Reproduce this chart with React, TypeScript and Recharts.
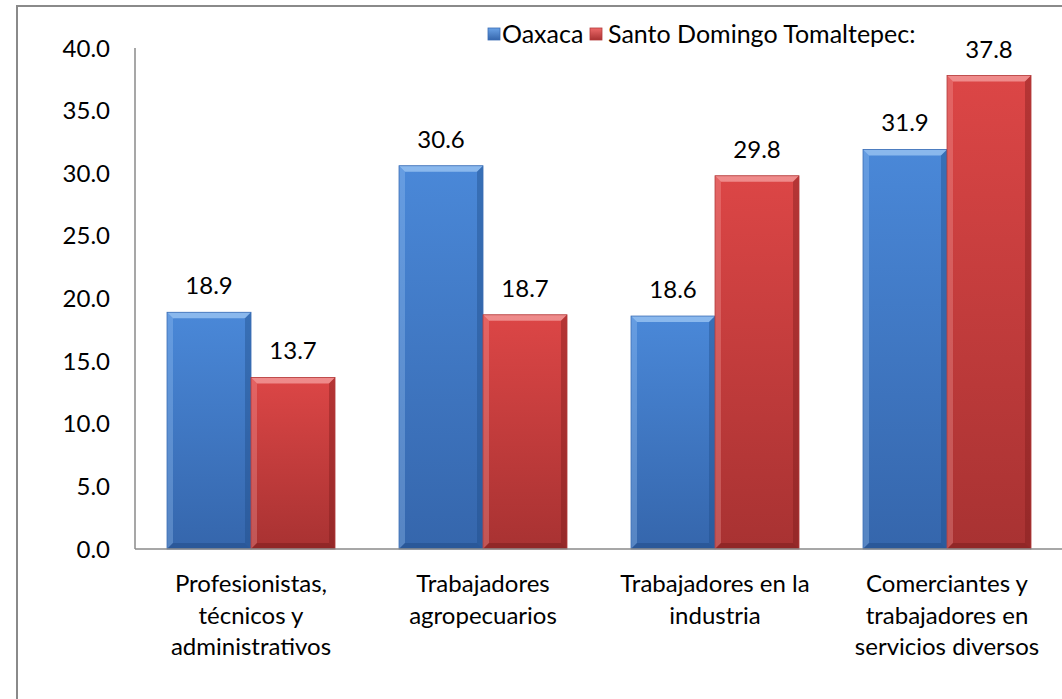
import React from 'react';
import { BarChart, Bar, XAxis, YAxis, LabelList } from 'recharts';

const categories = [
    'Profesionistas, técnicos y administrativos',
    'Trabajadores agropecuarios',
    'Trabajadores en la industria',
    'Comerciantes y trabajadores en servicios diversos',
];
const categoryLines = [
    ['Profesionistas,', 'técnicos y', 'administrativos'],
    ['Trabajadores', 'agropecuarios'],
    ['Trabajadores en la', 'industria'],
    ['Comerciantes y', 'trabajadores en', 'servicios diversos'],
];
const oaxaca = [18.9, 30.6, 18.6, 31.9];
const tomaltepec = [13.7, 18.7, 29.8, 37.8];
const yTicks = [0, 5, 10, 15, 20, 25, 30, 35, 40];

const data = categories.map((name, i) => ({
    name,
    idx: i,
    oaxaca: oaxaca[i],
    tomaltepec: tomaltepec[i],
}));

const FONT = 'Lato, "Open Sans", sans-serif';
const FS = 24;

const BevelBar = (props: any) => {
    const { x, y, width, height, gid, light, dark, edge } = props;
    if (!height || height <= 0) return null;
    const b = Math.min(6, width / 2, height / 2);
    const r = x + width;
    const bt = y + height;
    return (
        <g>
            <rect x={x} y={y} width={width} height={height} fill={`url(#${gid})`} />
            <polygon points={`${x},${y} ${r},${y} ${r - b},${y + b} ${x + b},${y + b}`} fill={light} opacity={0.7} />
            <polygon points={`${x},${y} ${x + b},${y + b} ${x + b},${bt - b} ${x},${bt}`} fill={light} opacity={0.3} />
            <polygon points={`${r},${y} ${r},${bt} ${r - b},${bt - b} ${r - b},${y + b}`} fill={dark} opacity={0.4} />
            <polygon points={`${x},${bt} ${x + b},${bt - b} ${r - b},${bt - b} ${r},${bt}`} fill={dark} opacity={0.5} />
            <rect x={x} y={y} width={width} height={height} fill="none" stroke={edge} strokeWidth={0.8} />
        </g>
    );
};

const XTick = (props: any) => {
    const { x, y, index } = props;
    const lines = categoryLines[index] || [];
    return (
        <text x={x} y={y} textAnchor="middle" fill="#000" fontSize={FS} fontFamily={FONT}>
            {lines.map((l, i) => (
                <tspan key={i} x={x} dy={i === 0 ? 35 : 31.5}>
                    {l}
                </tspan>
            ))}
        </text>
    );
};

const LegendSquare = ({ x, gid, edge }: { x: number; gid: string; edge: string }) => (
    <rect x={x} y={28} width={12} height={12} fill={`url(#${gid})`} stroke={edge} strokeWidth={0.8} />
);

export default function App() {
    return (
        <div style={{ position: 'absolute', left: 0, top: 0, width: 1062, height: 699, overflow: 'hidden', background: '#fff' }}>
            <div
                style={{
                    position: 'absolute',
                    left: 16,
                    top: 5,
                    width: 1100,
                    height: 750,
                    border: '2px solid #8a8a8a',
                    boxSizing: 'border-box',
                }}
            />
            <BarChart
                width={1062}
                height={699}
                data={data}
                margin={{ top: 48, right: -1, bottom: 30, left: 65 }}
                barCategoryGap="13.8%"
                barGap={0}
                style={{ position: 'absolute', left: 0, top: 0 }}
            >
                <defs>
                    <linearGradient id="gBlue" x1="0" y1="0" x2="0" y2="1">
                        <stop offset="0%" stopColor="#4a88d8" />
                        <stop offset="100%" stopColor="#3566ac" />
                    </linearGradient>
                    <linearGradient id="gRed" x1="0" y1="0" x2="0" y2="1">
                        <stop offset="0%" stopColor="#dc4646" />
                        <stop offset="100%" stopColor="#a83232" />
                    </linearGradient>
                </defs>
                <XAxis
                    dataKey="name"
                    axisLine={{ stroke: '#8a8a8a', strokeWidth: 1.5 }}
                    tickLine={false}
                    tick={<XTick />}
                    interval={0}
                    height={120}
                />
                <YAxis
                    domain={[0, 40]}
                    ticks={yTicks}
                    width={70}
                    axisLine={{ stroke: '#8a8a8a', strokeWidth: 1.5 }}
                    tickLine={false}
                    tickMargin={19}
                    tickFormatter={(v: number) => v.toFixed(1)}
                    tick={{ fill: '#000', fontSize: FS, fontFamily: FONT }}
                />
                <Bar
                    dataKey="oaxaca"
                    isAnimationActive={false}
                    shape={(p: any) => <BevelBar {...p} gid="gBlue" light="#a5cdf7" dark="#1f4a85" edge="#3a6db5" />}
                >
                    <LabelList
                        dataKey="oaxaca"
                        position="top"
                        offset={18}
                        formatter={(v: any) => Number(v).toFixed(1)}
                        style={{ fill: '#000', fontSize: FS, fontFamily: FONT }}
                    />
                </Bar>
                <Bar
                    dataKey="tomaltepec"
                    isAnimationActive={false}
                    shape={(p: any) => <BevelBar {...p} gid="gRed" light="#f7a8a8" dark="#7a1c1c" edge="#b33a3a" />}
                >
                    <LabelList
                        dataKey="tomaltepec"
                        position="top"
                        offset={18}
                        formatter={(v: any) => Number(v).toFixed(1)}
                        style={{ fill: '#000', fontSize: FS, fontFamily: FONT }}
                    />
                </Bar>
            </BarChart>
            <svg width={1062} height={60} style={{ position: 'absolute', left: 0, top: 0 }}>
                <defs>
                    <linearGradient id="lgBlue" x1="0" y1="0" x2="0" y2="1">
                        <stop offset="0%" stopColor="#6aa2e6" />
                        <stop offset="100%" stopColor="#3566ac" />
                    </linearGradient>
                    <linearGradient id="lgRed" x1="0" y1="0" x2="0" y2="1">
                        <stop offset="0%" stopColor="#ee6a6a" />
                        <stop offset="100%" stopColor="#a83232" />
                    </linearGradient>
                </defs>
                <LegendSquare x={488} gid="lgBlue" edge="#3a6db5" />
                <text x={502} y={43} fontSize={25} fontFamily={FONT} fill="#000">Oaxaca</text>
                <LegendSquare x={590} gid="lgRed" edge="#b33a3a" />
                <text x={608} y={43} fontSize={25} fontFamily={FONT} fill="#000">Santo Domingo Tomaltepec:</text>
            </svg>
        </div>
    );
}
